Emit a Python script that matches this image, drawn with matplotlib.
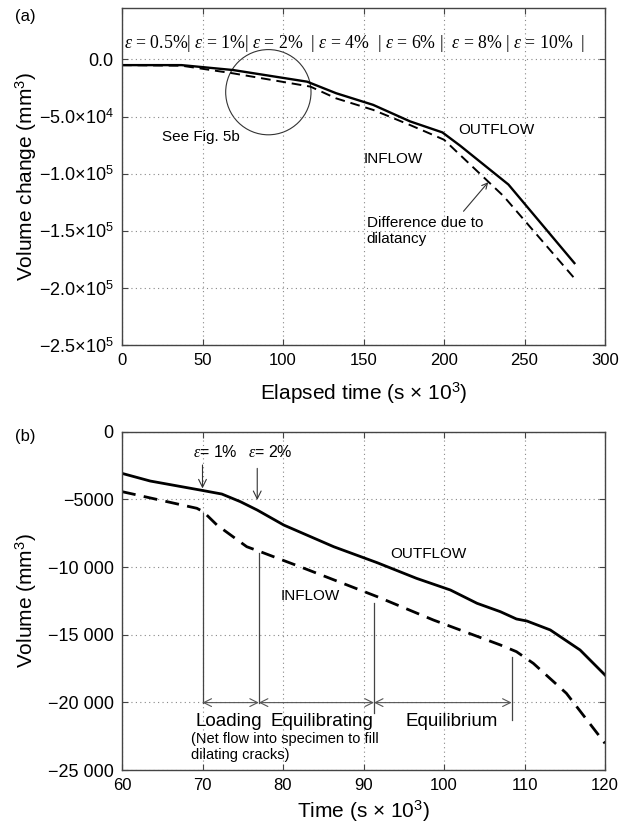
import matplotlib
matplotlib.use("Agg")
import matplotlib.pyplot as plt
from matplotlib.patches import Ellipse

plt.rcParams['font.family'] = ['Liberation Sans', 'DejaVu Sans']
plt.rcParams['mathtext.fontset'] = 'custom'
plt.rcParams['mathtext.rm'] = 'Liberation Sans'
plt.rcParams['mathtext.it'] = 'Liberation Serif:italic'
plt.rcParams['mathtext.bf'] = 'Liberation Sans:bold'

# ---------------- data: panel (a) ----------------
t_out_a = [0, 37, 69, 115, 133, 156, 179, 199, 210, 240, 281]
v_out_a = [-5000, -5000, -9300, -19500, -29600, -39800, -54300, -63900, -75500, -109500, -178300]
t_in_a = [0, 37, 69, 117, 133, 156, 179, 193, 200, 237, 281]
v_in_a = [-5000, -5500, -12200, -23800, -34100, -44200, -57500, -66000, -70300, -119700, -191600]
a_xticks = [0, 50, 100, 150, 200, 250, 300]
a_yticks = [0, -50000, -100000, -150000, -200000, -250000]
a_yticklabels = ['0.0', '\u22125.0\u00d710$^{4}$', '\u22121.0\u00d710$^{5}$', '\u22121.5\u00d710$^{5}$',
                 '\u22122.0\u00d710$^{5}$', '\u22122.5\u00d710$^{5}$']
a_header = (r"$\varepsilon$ = 0.5%| $\varepsilon$ = 1%| $\varepsilon$ = 2%  | $\varepsilon$ = 4%  "
            r"| $\varepsilon$ = 6% |  $\varepsilon$ = 8% | $\varepsilon$ = 10%  |")

# ---------------- data: panel (b) ----------------
t_out_b = [60, 63.5, 69.7, 72.4, 74.7, 76.8, 80.1, 86.3, 91.7, 96.6, 100.8, 104.1, 107, 109, 110.3, 113.2, 116.9, 120]
v_out_b = [-3080, -3645, -4310, -4606, -5170, -5790, -6900, -8500, -9680, -10840, -11700, -12680,
           -13300, -13840, -13990, -14650, -16130, -17980]
t_in_b = [60, 69.3, 70.1, 71.8, 75.5, 77.2, 82.1, 91.7, 98.7, 107, 109, 111.1, 115.2, 120]
v_in_b = [-4430, -5660, -5910, -6900, -8500, -8870, -9975, -12190, -13920, -15760, -16255, -17120, -19330, -23030]
b_xticks = [60, 70, 80, 90, 100, 110, 120]
b_yticks = [0, -5000, -10000, -15000, -20000, -25000]
b_yticklabels = ['0', '\u22125000', '\u221210 000', '\u221215 000', '\u221220 000', '\u221225 000']
phase_bounds = [70, 77, 91.3, 108.4]
phase_line_tops = [-6030, -8990, -12680, -16620]
phase_line_bottoms = [-20070, -20070, -20810, -21300]
phase_names = ['Loading', 'Equilibrating', 'Equilibrium']
strain_marks_t = [70, 76.8]
strain_marks_lbl = [r"$\varepsilon$= 1%", r"$\varepsilon$= 2%"]

fig = plt.figure(figsize=(6.21, 8.32), dpi=100)
axa = fig.add_axes([122/621, 1-345/832, 483/621, 337/832])
axb = fig.add_axes([122/621, 1-770/832, 483/621, 338.3/832])

grid_kw = dict(color='#888888', linestyle=(0, (1, 3)), linewidth=0.8)
for ax in (axa, axb):
    for s in ax.spines.values():
        s.set_color('#444444')
        s.set_linewidth(1.0)
    ax.tick_params(direction='in', top=True, right=True, length=4, width=0.8,
                   labelsize=12, color='#444444', pad=6)
    ax.tick_params(axis='y', labelsize=13)
    ax.grid(True, **grid_kw)

# ----- panel (a) -----
axa.plot(t_out_a, v_out_a, color='black', lw=1.7)
axa.plot(t_in_a, v_in_a, color='black', lw=1.4, linestyle=(0, (5, 3)))
axa.set_xlim(0, 300)
axa.set_ylim(-250000, 45000)
axa.set_xticks(a_xticks)
axa.set_yticks(a_yticks)
axa.set_yticklabels(a_yticklabels)
axa.set_xlabel('Elapsed time (s \u00d7 10$^{3}$)', fontsize=15)
axa.set_ylabel('Volume change (mm$^{3}$)', fontsize=15)
axa.xaxis.set_label_coords(0.5, -0.105)
axa.yaxis.set_label_coords(-0.172, 0.5)
axa.add_patch(Ellipse((90.9, -28700), 53, 74600, fill=False, lw=0.8, edgecolor='#333333'))
axa.text(1, 14200, a_header, fontsize=12.8, family='Liberation Serif', va='center', ha='left')
axa.text(25, -68000, 'See Fig. 5b', fontsize=11, va='center')
axa.text(150, -87000, 'INFLOW', fontsize=11, va='center')
axa.text(209, -62000, 'OUTFLOW', fontsize=11, va='center')
axa.text(152, -150000, 'Difference due to\ndilatancy', fontsize=11, va='center', linespacing=1.2)
axa.annotate('', xy=(228.6, -105600), xytext=(211, -134800),
             arrowprops=dict(arrowstyle='->', lw=0.8, color='#333333'))

# ----- panel (b) -----
axb.plot(t_out_b, v_out_b, color='black', lw=2.0)
axb.plot(t_in_b, v_in_b, color='black', lw=2.0, linestyle=(0, (5, 3)))
axb.set_xlim(60, 120)
axb.set_ylim(-25000, 0)
axb.set_xticks(b_xticks)
axb.set_yticks(b_yticks)
axb.set_yticklabels(b_yticklabels)
axb.set_xlabel('Time (s \u00d7 10$^{3}$)', fontsize=15)
axb.set_ylabel('Volume (mm$^{3}$)', fontsize=15)
axb.xaxis.set_label_coords(0.5, -0.085)
axb.yaxis.set_label_coords(-0.172, 0.5)

for tb, top, bot in zip(phase_bounds, phase_line_tops, phase_line_bottoms):
    axb.plot([tb, tb], [top, bot], color='#444444', lw=0.9)
for i in range(len(phase_bounds) - 1):
    axb.annotate('', xy=(phase_bounds[i+1], -20020), xytext=(phase_bounds[i], -20020),
                 arrowprops=dict(arrowstyle='<->', lw=0.8, color='#555555',
                                 shrinkA=0, shrinkB=0, mutation_scale=14))
name_x = [73.3, 84.8, 101]
for nx, name in zip(name_x, phase_names):
    axb.text(nx, -21450, name, fontsize=13.5, ha='center', va='center')
axb.text(68.6, -23300, '(Net flow into specimen to fill\ndilating cracks)', fontsize=10.5,
         ha='left', va='center', linespacing=1.15)

for tm, lbl, y0, y1 in zip(strain_marks_t, strain_marks_lbl, [-2460, -2710], [-4190, -5050]):
    axb.annotate('', xy=(tm, y1), xytext=(tm, y0),
                 arrowprops=dict(arrowstyle='->', lw=0.8, color='#333333', shrinkA=0, shrinkB=0,
                                 mutation_scale=14))
axb.text(68.8, -1500, strain_marks_lbl[0], fontsize=11.5, ha='left', va='center')
axb.text(75.6, -1500, strain_marks_lbl[1], fontsize=11.5, ha='left', va='center')
axb.text(98.1, -9050, 'OUTFLOW', fontsize=11, ha='center', va='center')
axb.text(83.4, -12150, 'INFLOW', fontsize=11, ha='center', va='center')

fig.text(15/621, 1-17/832, '(a)', fontsize=12, va='center', ha='left')
fig.text(15/621, 1-437/832, '(b)', fontsize=12, va='center', ha='left')

fig.savefig('out.png', dpi=100)
